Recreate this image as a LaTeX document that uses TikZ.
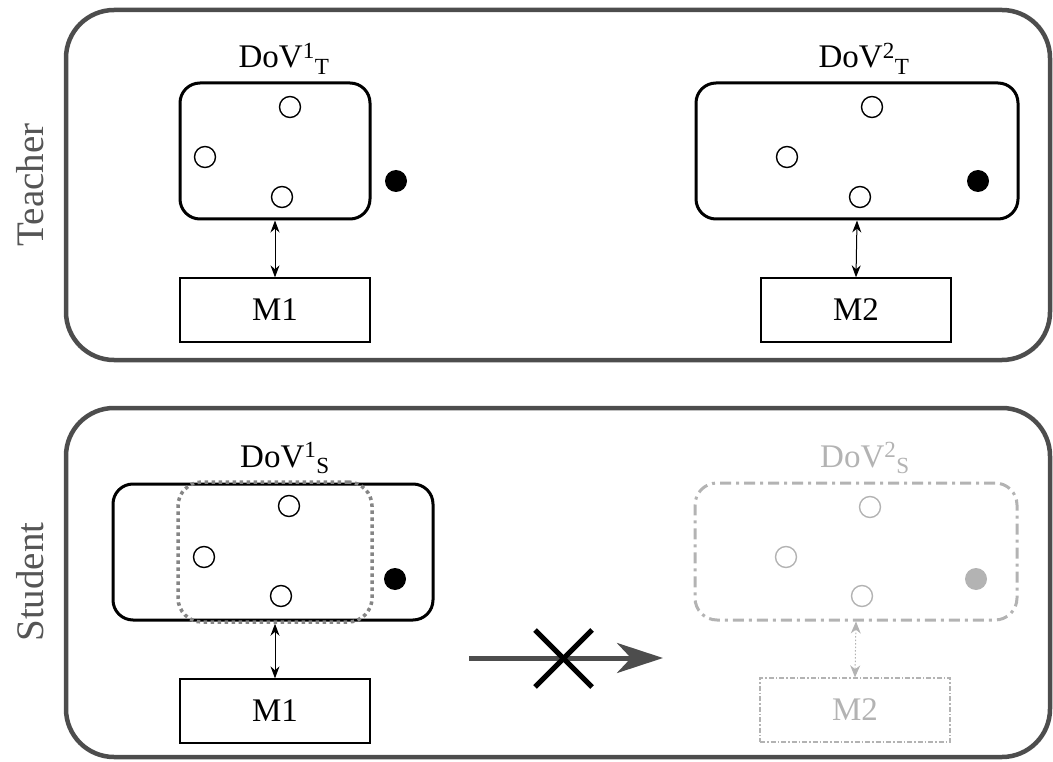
\documentclass[tikz,border=0pt]{standalone}
\usepackage{fontspec}
\setmainfont{Liberation Serif}
\usetikzlibrary{arrows.meta}
\definecolor{outerc}{HTML}{4D4D4D}
\definecolor{labc}{HTML}{555555}
\definecolor{ghost}{HTML}{B3B3B3}
\definecolor{dotc}{HTML}{858585}
\begin{document}
\begin{tikzpicture}[x=1pt,y=-1pt,
  outer/.style={draw=outerc,line width=4.5,rounded corners=48},
  dovbox/.style={draw,line width=3,rounded corners=20,minimum width=#1,minimum height=136,inner sep=0},
  mbox/.style={draw,line width=1.3,minimum width=190,minimum height=64,inner sep=0,font=\fontsize{33}{36}\selectfont},
  pt/.style={circle,draw,line width=1.4,minimum size=21,inner sep=0},
  dot/.style={circle,fill,minimum size=22,inner sep=0},
  lab/.style={anchor=base,font=\fontsize{33}{36}\selectfont,inner sep=0},
  side/.style={rotate=90,text=labc,font=\fontsize{39}{42}\selectfont,inner sep=0},
  dbl/.style={{Stealth[length=12,width=9]}-{Stealth[length=12,width=9]},line width=1}
]
\useasboundingbox (0,0) rectangle (1053,762);
% outer panels
\draw[outer] (66,10) rectangle (1050,360);
\draw[outer] (66,408) rectangle (1050,757);
\node[side] (teacher) at (30,185) {Teacher};
\node[side] (student) at (30,582) {Student};

% ---- Teacher ----
\node[dovbox=190] (d1t) at (275,151) {};
\node[lab] (l1t) at (284,68) {DoV\textsuperscript{1}\textsubscript{T}};
\node[pt] (a1) at (290,107) {};
\node[pt] (a2) at (205,157) {};
\node[pt] (a3) at (282,197) {};
\node[dot] (a4) at (396,181) {};
\node[mbox] (m1t) at (275,310) {M1};
\draw[dbl] (d1t.south) -- (m1t.north);

\node[dovbox=322] (d2t) at (857,151) {};
\node[lab] (l2t) at (864,68) {DoV\textsuperscript{2}\textsubscript{T}};
\node[pt] (b1) at (872,107) {};
\node[pt] (b2) at (787,157) {};
\node[pt] (b3) at (860,197) {};
\node[dot] (b4) at (978,181) {};
\node[mbox] (m2t) at (856,310) {M2};
\draw[dbl] (d2t.south) -- (m2t.north);

% ---- Student ----
\node[dovbox=320] (d1s) at (273,552) {};
\node[draw=dotc,line width=3.5,dash pattern=on 3.5 off 3.5,rounded corners=24,minimum width=194,minimum height=140,inner sep=0] (d1sd) at (275,552) {};
\node[lab] (l1s) at (285,467) {DoV\textsuperscript{1}\textsubscript{S}};
\node[pt] (c1) at (289,506) {};
\node[pt] (c2) at (204,557) {};
\node[pt] (c3) at (281,596) {};
\node[dot] (c4) at (395,579) {};
\node[mbox] (m1s) at (275,711) {M1};
\draw[dbl] (d1sd.south) -- (m1s.north);

\node[draw=ghost,line width=3,dash pattern=on 11 off 5 on 3 off 5,rounded corners=22,minimum width=322,minimum height=137,inner sep=0] (d2s) at (856,551.5) {};
\node[lab,text=ghost] (l2s) at (865,467) {DoV\textsuperscript{2}\textsubscript{S}};
\node[pt,draw=ghost] (e1) at (870,507) {};
\node[pt,draw=ghost] (e2) at (786,557) {};
\node[pt,draw=ghost] (e3) at (862,596) {};
\node[dot,fill=ghost] (e4) at (976,579) {};
\node[mbox,draw=ghost,text=ghost,line width=1.3,dash pattern=on 5 off 2 on 1.5 off 2] (m2s) at (855,710) {M2};
\draw[dbl,draw=ghost,dash pattern=on 1.5 off 2,{Stealth[length=12,width=10]}-{Stealth[length=12,width=10]}] (d2s.south) -- (m2s.north);

% big arrow with cross
\coordinate (ga) at (469,658);
\coordinate (gb) at (663,658);
\draw[draw=outerc,line width=5,-{Stealth[length=46,width=30,inset=14]}] (ga) -- (gb);
\coordinate (x1) at (535,630);
\coordinate (x2) at (592,687);
\coordinate (x3) at (535,687);
\coordinate (x4) at (592,630);
\draw[line width=5] (x1) -- (x2);
\draw[line width=5] (x3) -- (x4);
\end{tikzpicture}
\end{document}
